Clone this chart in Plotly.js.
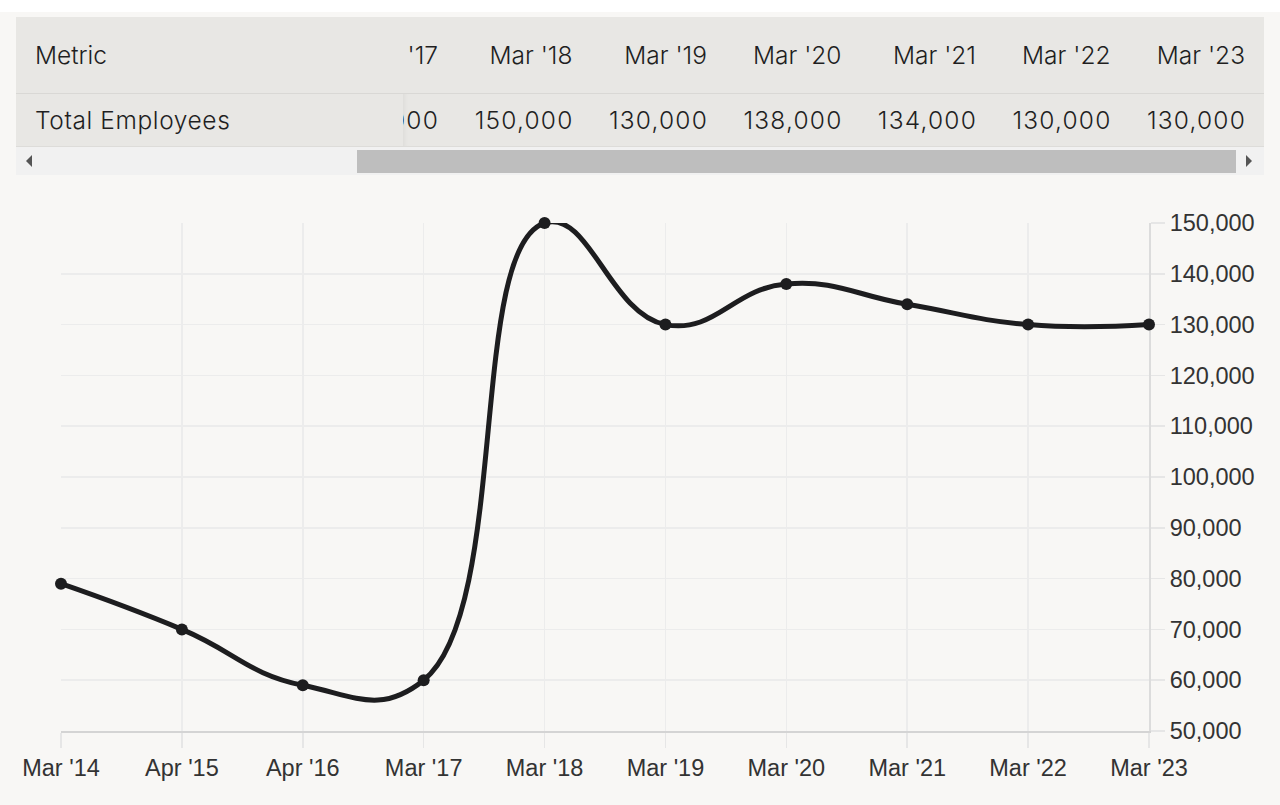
<!DOCTYPE html>
<html>
<head>
<meta charset="utf-8">
<script src="https://cdn.plot.ly/plotly-3.0.1.min.js"></script>
<style>
  html, body { margin: 0; padding: 0; background: #ffffff; }
  #page { position: absolute; left: 0; top: 12px; width: 1280px; height: 793px; background: #f8f7f5; }
  #tbl { position: absolute; left: 16px; top: 5px; width: 1248px; height: 158px; font-family: Inter, sans-serif; font-weight: 300; color: #1f1f1f; }
  .row { position: absolute; left: 0; width: 1248px; background: #e8e7e4; }
  #hdr { top: 0; height: 76px; border-bottom: 1px solid #d9d8d5; }
  #val { top: 77px; height: 52px; border-bottom: 2px solid #dddcd9; }
  .lab { position: absolute; left: 19px; font-size: 24.5px; }
  .scroller { position: absolute; left: 387px; top: 0; width: 861px; height: 100%; overflow: hidden; }
  .strip { position: absolute; top: 0; height: 100%; white-space: nowrap; }
  .cell { display: inline-block; width: 134.5px; text-align: right; box-sizing: border-box; padding-right: 19px; font-size: 24.5px; }
  #valStrip .cell { letter-spacing: 1.2px; padding-right: 18px; }
  #sb { position: absolute; left: 0; top: 130px; width: 1248px; height: 28px; background: #f1f1f1; }
  #thumb { position: absolute; left: 341px; top: 3px; width: 879px; height: 23px; background: #bebebe; }
  .arr { position: absolute; top: 8px; width: 0; height: 0; border-top: 6px solid transparent; border-bottom: 6px solid transparent; }
  #chart { position: absolute; left: 0; top: 163px; width: 1280px; height: 630px; }
</style>
</head>
<body>
<div id="page">
  <div id="tbl">
    <div class="row" id="hdr"><div class="lab" style="top:23px">Metric</div><div class="scroller"><div class="strip" id="hdrStrip" style="line-height:76px"></div></div></div>
    <div class="row" id="val"><div class="lab" style="top:11px; letter-spacing:0.6px">Total Employees</div><div class="scroller" style="box-shadow: inset 6px 0 6px -6px rgba(0,0,0,0.08)"><div class="strip" id="valStrip" style="line-height:52px"></div></div></div>
    <div id="sb">
      <div class="arr" style="left:10px; border-right:6px solid #555"></div>
      <div id="thumb"></div>
      <div class="arr" style="left:1230px; border-left:6px solid #555"></div>
    </div>
  </div>
  <div id="chart"></div>
</div>
<script>
// periods and headcount
const periods = ["Mar '14", "Apr '15", "Apr '16", "Mar '17", "Mar '18", "Mar '19", "Mar '20", "Mar '21", "Mar '22", "Mar '23"];
const employees = [79000, 70000, 59000, 60000, 150000, 130000, 138000, 134000, 130000, 130000];
const yTicks = [50000, 60000, 70000, 80000, 90000, 100000, 110000, 120000, 130000, 140000, 150000];

// table cells, scrolled to the far right like the original;
// cells that are fully scrolled out of view are not drawn
const cellW = 134.5, viewW = 861;
const scrollX = periods.length * cellW - viewW;
const firstShown = Math.floor(scrollX / cellW);
const hdrStrip = document.getElementById('hdrStrip');
const valStrip = document.getElementById('valStrip');
for (let i = firstShown; i < periods.length; i++) {
  const h = document.createElement('span');
  h.className = 'cell';
  h.textContent = periods[i];
  hdrStrip.appendChild(h);
  const v = document.createElement('span');
  v.className = 'cell';
  v.textContent = employees[i].toLocaleString('en-US');
  valStrip.appendChild(v);
}
[hdrStrip, valStrip].forEach(s => { s.style.left = (firstShown * cellW - scrollX) + 'px'; });

const trace = {
  x: periods,
  y: employees,
  type: 'scatter',
  mode: 'lines+markers',
  line: {shape: 'spline', smoothing: 1.3, color: '#1d1d1f', width: 5},
  marker: {size: 12, color: '#1d1d1f'},
  cliponaxis: false,
  hoverinfo: 'x+y'
};

const layout = {
  width: 1280,
  height: 630,
  margin: {l: 61, r: 131, t: 48, b: 74},
  paper_bgcolor: '#f8f7f5',
  plot_bgcolor: '#f8f7f5',
  showlegend: false,
  font: {family: 'Liberation Sans, Arial, sans-serif', size: 23.5, color: '#333'},
  xaxis: {
    type: 'category',
    range: [0, 9],
    showgrid: true,
    gridcolor: '#ececec',
    gridwidth: 1.5,
    showline: true,
    linecolor: '#d4d4d4',
    linewidth: 2,
    ticks: 'outside',
    ticklen: 15,
    tickcolor: '#e6e6e6',
    tickwidth: 1.5,
    zeroline: false,
    layer: 'below traces',
    fixedrange: true
  },
  yaxis: {
    side: 'right',
    range: [50000, 150000],
    tickvals: yTicks,
    ticktext: yTicks.map(v => v.toLocaleString('en-US')),
    showgrid: true,
    gridcolor: '#ececec',
    gridwidth: 1.5,
    showline: true,
    linecolor: '#dcdcdc',
    linewidth: 2,
    ticks: 'outside',
    ticklen: 14,
    tickcolor: '#e6e6e6',
    tickwidth: 1.5,
    zeroline: false,
    layer: 'below traces',
    fixedrange: true
  }
};

Plotly.newPlot('chart', [trace], layout, {displayModeBar: false, staticPlot: true});
</script>
</body>
</html>
